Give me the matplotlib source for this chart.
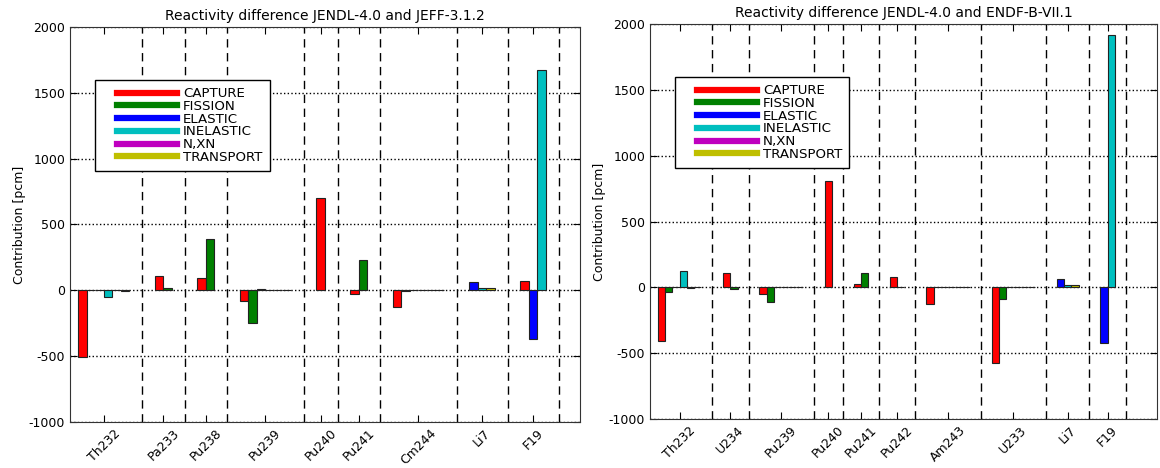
import matplotlib
matplotlib.use('Agg')
import matplotlib.pyplot as plt
from matplotlib.lines import Line2D
from matplotlib.legend_handler import HandlerLine2D

plt.rcParams['axes.unicode_minus'] = False

reactions = ['CAPTURE', 'FISSION', 'ELASTIC', 'INELASTIC', 'N,XN', 'TRANSPORT']
colors = ['r', (0, 0.5, 0), 'b', (0, 0.75, 0.75), (0.75, 0, 0.75), (0.75, 0.75, 0)]

# JENDL-4.0 vs JEFF-3.1.2  (None = reaction not plotted for that isotope)
jeff_isotopes = ['Th232', 'Pa233', 'Pu238', 'Pu239', 'Pu240', 'Pu241', 'Cm244', 'Li7', 'F19']
jeff_capture = [-510, 110, 90, -80, 705, -30, -130, None, 70]
jeff_fission = [0, 15, 390, -250, None, 230, -8, None, None]
jeff_elastic = [0, None, None, 8, None, None, 0, 65, -370]
jeff_inelastic = [-50, None, None, 0, None, None, 0, 15, 1670]
jeff_nxn = [0, None, None, 0, None, None, 0, None, None]
jeff_transport = [-8, None, None, 0, None, None, 0, 15, None]

# JENDL-4.0 vs ENDF-B-VII.1
endf_isotopes = ['Th232', 'U234', 'Pu239', 'Pu240', 'Pu241', 'Pu242', 'Am243', 'U233', 'Li7', 'F19']
endf_capture = [-405, 110, -50, 805, 25, 75, -130, -575, None, None]
endf_fission = [-35, -15, -115, None, 110, 0, 0, -85, None, None]
endf_elastic = [0, None, 0, None, None, None, 0, 0, 60, -425]
endf_inelastic = [125, None, 0, None, None, None, 0, 0, 15, 1915]
endf_nxn = [-5, None, 0, None, None, None, 0, 0, None, None]
endf_transport = [0, None, 0, None, None, None, 0, 0, 15, None]


def draw(ax, title, isotopes, series, start, gap, right_pad):
    cursor = start
    centers = []
    seps = []
    for i in range(len(isotopes)):
        k = 0
        for r, vals in enumerate(series):
            v = vals[i]
            if v is None:
                continue
            ax.bar(cursor + k, v, width=1, align='edge', color=colors[r],
                   edgecolor='#222222', linewidth=0.8, zorder=3)
            k += 1
        centers.append(cursor + k / 2.0)
        sep = cursor + k + gap
        seps.append(sep)
        cursor = sep + gap
    for s in seps:
        ax.axvline(s, color='k', ls='--', lw=1, dashes=(6, 4), zorder=2)
    ax.set_xlim(0, seps[-1] + right_pad)
    ax.set_ylim(-1000, 2000)
    ax.set_yticks(range(-1000, 2001, 500))
    ax.yaxis.grid(True, color='k', ls=':', lw=1)
    ax.set_axisbelow(True)
    ax.set_xticks(centers)
    ax.set_xticklabels(isotopes, rotation=45, fontsize=9)
    ax.tick_params(axis='both', direction='in', top=True, right=True, labelsize=9, length=5)
    ax.set_title(title, fontsize=10, pad=5)
    ax.set_ylabel('Contribution [pcm]', fontsize=9, labelpad=2)
    for sp in ax.spines.values():
        sp.set_color('#333333')
    handles = [Line2D([], [], color=c, lw=4.5) for c in colors]
    leg = ax.legend(handles, reactions, loc='upper left', bbox_to_anchor=(0.049, 0.866),
                    fontsize=9.6, handlelength=5.6, labelspacing=-0.02, borderaxespad=0,
                    fancybox=False, framealpha=1, edgecolor='k', handletextpad=0.45,
                    borderpad=0.55, handler_map={Line2D: HandlerLine2D(xpad=1.1)})
    leg.get_frame().set_linewidth(1)


fig = plt.figure(figsize=(11.6, 4.68), dpi=100)
ax1 = fig.add_axes([0.0603, 0.0983, 0.4397, 0.844])
ax2 = fig.add_axes([0.5603, 0.1047, 0.437, 0.844])

draw(ax1, 'Reactivity difference JENDL-4.0 and JEFF-3.1.2', jeff_isotopes,
     [jeff_capture, jeff_fission, jeff_elastic, jeff_inelastic, jeff_nxn, jeff_transport],
     1.0, 1.5, 2.5)
draw(ax2, 'Reactivity difference JENDL-4.0 and ENDF-B-VII.1', endf_isotopes,
     [endf_capture, endf_fission, endf_elastic, endf_inelastic, endf_nxn, endf_transport],
     1.1, 1.5, 4.3)

fig.savefig('out.png', dpi=100)
